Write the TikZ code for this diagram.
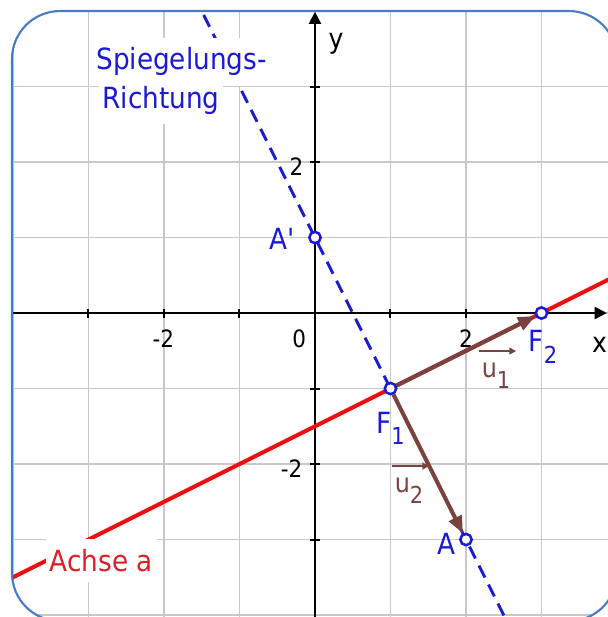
\documentclass[tikz,border=0pt]{standalone}
\usepackage{fontspec}
\setmainfont{DejaVu Sans}[FakeStretch=0.9]
\usepackage{tikz}
\usetikzlibrary{arrows.meta, positioning, calc}
\definecolor{myblue}{RGB}{25,25,215}
\definecolor{myred}{RGB}{238,16,16}
\definecolor{mylabred}{RGB}{225,30,40}
\definecolor{mybrown}{RGB}{122,66,62}
\definecolor{myframe}{RGB}{70,125,195}
\definecolor{mygrid}{RGB}{200,200,200}
\newcommand{\low}[1]{\raisebox{-4.3pt}{\fontsize{8.8}{9}\selectfont #1}}
\tikzset{
  gridline/.style={draw=mygrid, line width=0.5pt},
  axisline/.style={draw=black, line width=0.75pt, -{Triangle[length=4.6pt, width=4.6pt]}},
  tickmark/.style={draw=black, line width=0.75pt},
  ticklbl/.style={font=\fontsize{9}{10}\selectfont, inner sep=0pt, anchor=base},
  axlbl/.style={font=\fontsize{10.5}{12}\selectfont, inner sep=0pt, anchor=base},
  achse/.style={draw=myred, line width=1.5pt},
  richtung/.style={draw=myblue, line width=1.1pt, dash pattern=on 5pt off 3pt},
  vektor/.style={draw=mybrown, line width=1.5pt, -{Triangle[length=6.5pt, width=5.2pt]}},
  punkt/.style={circle, draw=myblue, fill=white, line width=0.95pt,
    minimum size=0.15cm, inner sep=0pt},
  lbl/.style={text=myblue, font=\fontsize{11}{13}\selectfont, inner sep=1pt},
  boxlbl/.style={fill=white, font=\fontsize{11}{13}\selectfont,
    inner xsep=1.5pt, inner ysep=3.8pt},
  ulbl/.style={text=mybrown, font=\fontsize{10}{12}\selectfont, inner sep=0.5pt, anchor=base west},
  uarrow/.style={draw=mybrown, line width=0.6pt, -{Triangle[length=2.6pt, width=2.6pt]}},
  framebox/.style={draw=myframe, line width=0.8pt, rounded corners=0.636cm}
}

\begin{document}
\begin{tikzpicture}
  \useasboundingbox (-4.172,-4.026) rectangle (3.868,4.146);
  \begin{scope}
    \clip[rounded corners=0.636cm] (-4.013,-4.08) rectangle (4.0,4.0);
    % Gitter
    \draw[gridline] (-5,-5) grid (5,5);
    % Achsen
    \draw[axisline] (-4.2,0) -- (3.865,0);
    \draw[axisline] (0,-4.2) -- (0,3.99);
    \foreach \i in {-3,-2,-1,1,2,3} {
      \draw[tickmark] (\i,-0.06) -- (\i,0.06);
      \draw[tickmark] (-0.06,\i) -- (0.06,\i);
    }
    \node[ticklbl] (xm2) at (-2.01,-0.45) {-2};
    \node[ticklbl] (x0) at (-0.21,-0.45) {0};
    \node[ticklbl] (x2) at (2.0,-0.45) {2};
    \node[ticklbl] (y2) at (-0.245,1.828) {2};
    \node[ticklbl] (ym2) at (-0.311,-2.172) {-2};
    \node[axlbl] (xlab) at (3.77,-0.52) {x};
    \node[axlbl] (ylab) at (0.28,3.51) {y};

    % Achse a
    \coordinate (aL) at (-4.2,-3.6);
    \coordinate (aR) at (4.1,0.55);
    \draw[achse] (aL) -- (aR);
    \node[boxlbl, text=mylabred] (achse) at (-2.83,-3.28) {Achse a};

    % Spiegelungsrichtung
    \coordinate (sTop) at (-1.6,4.2);
    \coordinate (sBot) at (2.6,-4.2);
    \draw[richtung] (sTop) -- (sBot);
    \node[boxlbl, text=myblue, anchor=base west] (spieg1) at (-2.954,3.219) {Spiegelungs-};
    \node[boxlbl, text=myblue, anchor=base west] (spieg2) at (-2.874,2.715) {Richtung};

    % Punkte
    \node[punkt] (Ap) at (0,1) {};
    \node[punkt] (F1) at (1,-1) {};
    \node[punkt] (F2) at (3,0) {};
    \node[punkt] (A) at (2,-3) {};
    \draw[vektor] (F1) -- (F2);
    \draw[vektor] (F1) -- (A);

    \node[lbl, anchor=east] (lAp) at (-0.21,0.98) {A\textquotesingle};
    \node[lbl, anchor=north] (lF1) at (1.0,-1.27) {F\low{1}};
    \node[lbl, anchor=north] (lF2) at (3.02,-0.19) {F\low{2}};
    \node[lbl] (lA) at (1.74,-3.06) {A};

    % Richtungsvektoren
    \node[ulbl] (lu1) at (2.185,-0.848) {u\low{1}};
    \node[ulbl] (lu2) at (1.033,-2.371) {u\low{2}};
    \draw[uarrow] ([xshift=-0.5pt,yshift=3.5pt]lu1.north west) -- ([xshift=1.5pt,yshift=3.5pt]lu1.north east);
    \draw[uarrow] ([xshift=-0.5pt,yshift=3.5pt]lu2.north west) -- ([xshift=1.5pt,yshift=3.5pt]lu2.north east);
  \end{scope}
  % Rahmen
  \draw[framebox] (-4.013,-4.08) rectangle (4.0,4.0);
\end{tikzpicture}
\end{document}
